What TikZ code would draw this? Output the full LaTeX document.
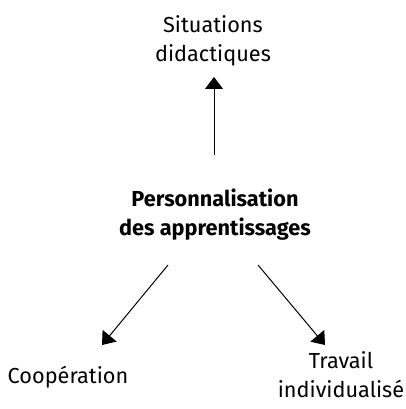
\documentclass[tikz,border=0pt]{standalone}
\usepackage{fontspec}
\setmainfont{Fira Sans}
\usetikzlibrary{arrows.meta}
\begin{document}
\begin{tikzpicture}[x=1pt,y=-1pt,
  lbl/.style={font=\fontsize{21.7}{29}\selectfont, align=center, inner sep=0pt, anchor=base},
  conn/.style={line width=1pt, -{Triangle[width=18pt,length=12pt]}}]
\useasboundingbox (0,0) rectangle (405,409);
\node[lbl] (sit) at (213,62) {Situations\\didactiques};
\node[lbl, font=\fontsize{21.7}{29}\selectfont\bfseries] (pers) at (215,235) {Personnalisation\\des apprentissages};
\node[lbl] (coop) at (68,383) {Coopération};
\node[lbl] (trav) at (341,397) {Travail\\individualisé};
\coordinate (pu) at (214,155);
\coordinate (pl) at (168,265);
\coordinate (pr) at (258,265);
\coordinate (tu) at (214,77);
\coordinate (tl) at (102,345);
\coordinate (tr) at (325,345);
\draw[conn] (pu) -- (tu);
\draw[conn] (pl) -- (tl);
\draw[conn] (pr) -- (tr);
\end{tikzpicture}
\end{document}
